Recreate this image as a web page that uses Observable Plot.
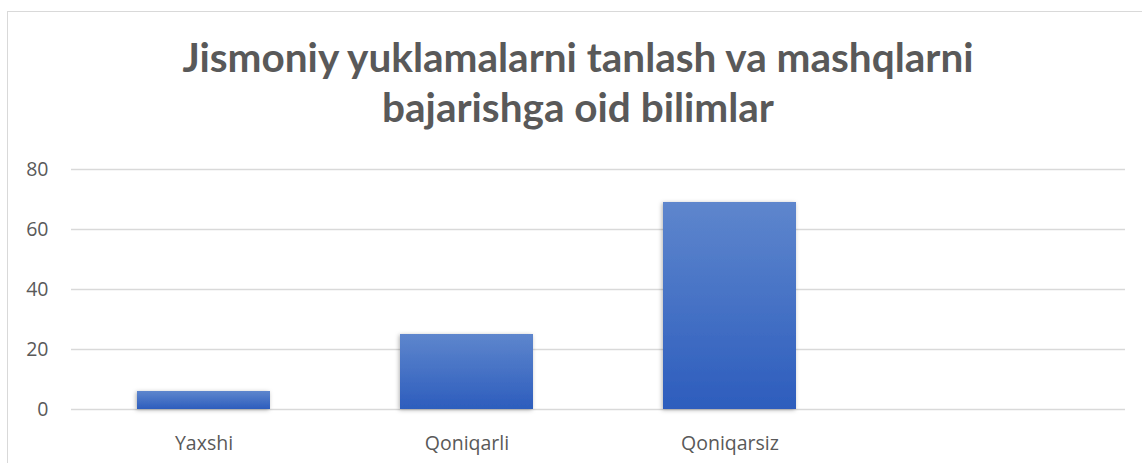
<!DOCTYPE html>
<html>
<head>
<meta charset="utf-8">
<script src="https://cdn.jsdelivr.net/npm/d3@7"></script>
<script src="https://cdn.jsdelivr.net/npm/@observablehq/plot@0.6"></script>
<style>
  html, body { margin: 0; padding: 0; background: #fff; }
  body { width: 1142px; height: 463px; position: relative; overflow: hidden; }
  #frame { position: absolute; left: 7px; top: 11px; width: 1300px; height: 600px;
           border-left: 1px solid #d9d9d9; border-top: 1px solid #d9d9d9; box-sizing: border-box; }
  #title { position: absolute; left: 7px; top: 32px; width: 1142px; text-align: center;
           font-family: Lato, "Open Sans", sans-serif; font-weight: 700; font-size: 40.5px;
           line-height: 50px; color: #595959; }
  #chart { position: absolute; left: 0; top: 150px; }
</style>
</head>
<body>
<div id="frame"></div>
<div id="title">Jismoniy yuklamalarni tanlash va mashqlarni<br>bajarishga oid bilimlar</div>
<div id="chart"></div>
<script>
const categories = ["Yaxshi", "Qoniqarli", "Qoniqarsiz", "\u00a0"];
const values = [6, 25, 69];
const yTicks = [0, 20, 40, 60, 80];

const data = values.map((v, i) => ({category: categories[i], value: v}));

const svg = Plot.plot({
  width: 1142,
  height: 313,
  marginLeft: 71,
  marginRight: 17,
  marginTop: 19,
  marginBottom: 54,
  style: {fontFamily: "'Open Sans', Lato, sans-serif", fontSize: "19.5px", color: "#595959", background: "transparent"},
  x: {domain: categories, paddingInner: 0.495, paddingOuter: 0.2475, label: null, tickSize: 0, tickPadding: 27},
  y: {domain: [0, 80], ticks: yTicks, label: null, tickSize: 0, tickPadding: 23},
  marks: [
    Plot.gridY(yTicks, {stroke: "#d9d9d9", strokeOpacity: 1, strokeWidth: 1.4}),
    Plot.barY(data, {x: "category", y: "value", fill: "url(#barGrad)"})
  ]
});

const s = d3.select(svg);
const defs = s.insert("defs", ":first-child");
const g = defs.append("linearGradient").attr("id", "barGrad")
  .attr("x1", 0).attr("y1", 0).attr("x2", 0).attr("y2", 1);
g.append("stop").attr("offset", "0%").attr("stop-color", "#5e86cd");
g.append("stop").attr("offset", "100%").attr("stop-color", "#2d5dbd");
const f = defs.append("filter").attr("id", "barShadow")
  .attr("x", "-10%").attr("y", "-30%").attr("width", "120%").attr("height", "160%");
f.append("feDropShadow").attr("dx", -1).attr("dy", 1).attr("stdDeviation", 2)
  .attr("flood-color", "#000").attr("flood-opacity", 0.3);
s.selectAll("g[aria-label='bar'] rect").attr("fill", "url(#barGrad)").attr("filter", "url(#barShadow)");

document.getElementById("chart").appendChild(svg);
</script>
</body>
</html>
